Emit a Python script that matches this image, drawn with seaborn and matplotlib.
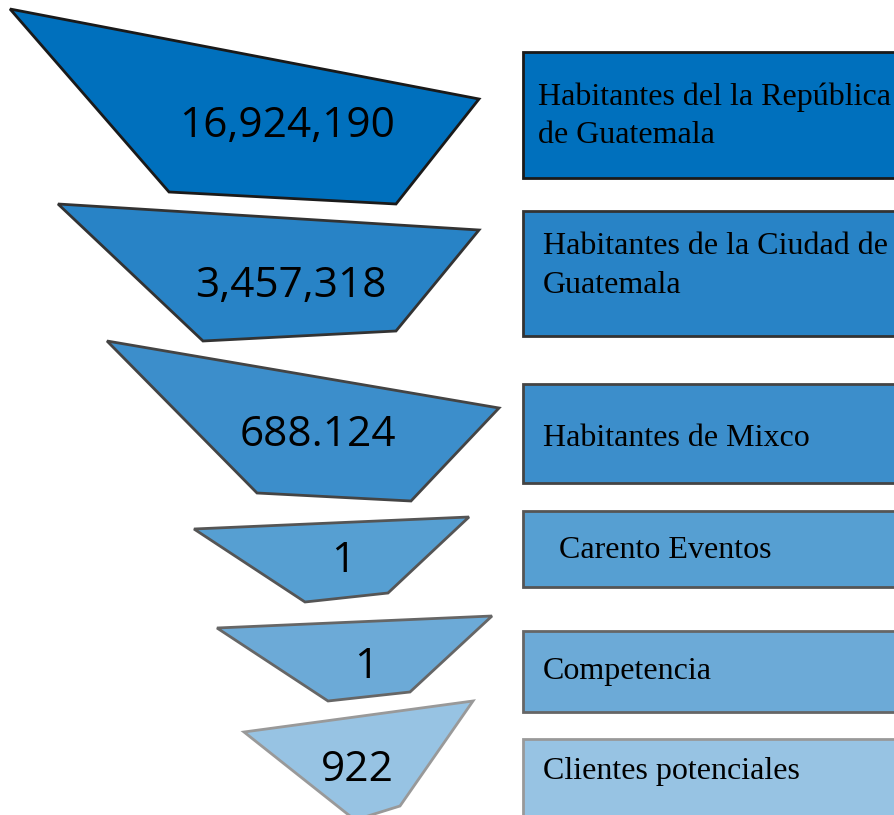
import matplotlib
matplotlib.use("Agg")
import matplotlib.pyplot as plt
from matplotlib.patches import Polygon, Rectangle
import seaborn as sns

# funnel values and the stage labels
values = ["16,924,190", "3,457,318", "688.124", "1", "1", "922"]
stages = [
    "Habitantes del la República\nde Guatemala",
    "Habitantes de la Ciudad de\nGuatemala",
    "Habitantes de Mixco",
    "Carento Eventos",
    "Competencia",
    "Clientes potenciales",
]
fills = ["#0070BD", "#2883C6", "#3C8ECB", "#569FD2", "#6CAAD7", "#97C3E3"]
edges = ["#1a1a1a", "#333333", "#444444", "#555555", "#666666", "#999999"]

# funnel piece outlines (pixel layout of the diagram)
pieces = [
    [(10, 9), (479, 99), (396, 204), (169, 192)],
    [(58, 204), (479, 230), (396, 331), (203, 341)],
    [(107, 341), (499, 408), (411, 501), (257, 493)],
    [(194, 529), (469, 517), (388, 593), (305, 602)],
    [(217, 628), (492, 616), (410, 692), (328, 701)],
    [(244, 732), (473, 701), (400, 806), (355, 820)],
]
num_pos = [(287, 126), (291, 286), (318, 435), (343, 561), (366, 667), (357, 770)]
boxes = [(52, 178), (211, 336), (384, 483), (511, 587), (631, 712), (739, 830)]
label_x = [538, 543, 543, 559, 543, 543]
label_y = [116, 266, 439, 551, 671, 772]

sns.set_theme(style="white")

fig = plt.figure(figsize=(8.95, 8.15), dpi=100)
ax = fig.add_axes([0, 0, 1, 1])
ax.set_xlim(0, 895)
ax.set_ylim(815, 0)
ax.axis("off")

for i in range(len(values)):
    ax.add_patch(Polygon(pieces[i], closed=True, facecolor=fills[i],
                         edgecolor=edges[i], linewidth=2, joinstyle="miter"))
    ax.text(num_pos[i][0], num_pos[i][1], values[i], ha="center", va="center",
            fontsize=30.5, family="Open Sans", color="black")
    top, bottom = boxes[i]
    ax.add_patch(Rectangle((523, top), 400, bottom - top, facecolor=fills[i],
                           edgecolor=edges[i], linewidth=2))
    ax.text(label_x[i], label_y[i], stages[i], ha="left", va="center",
            fontsize=23, family="Liberation Serif", color="black",
            linespacing=1.42)

fig.savefig("out.png", dpi=100)
